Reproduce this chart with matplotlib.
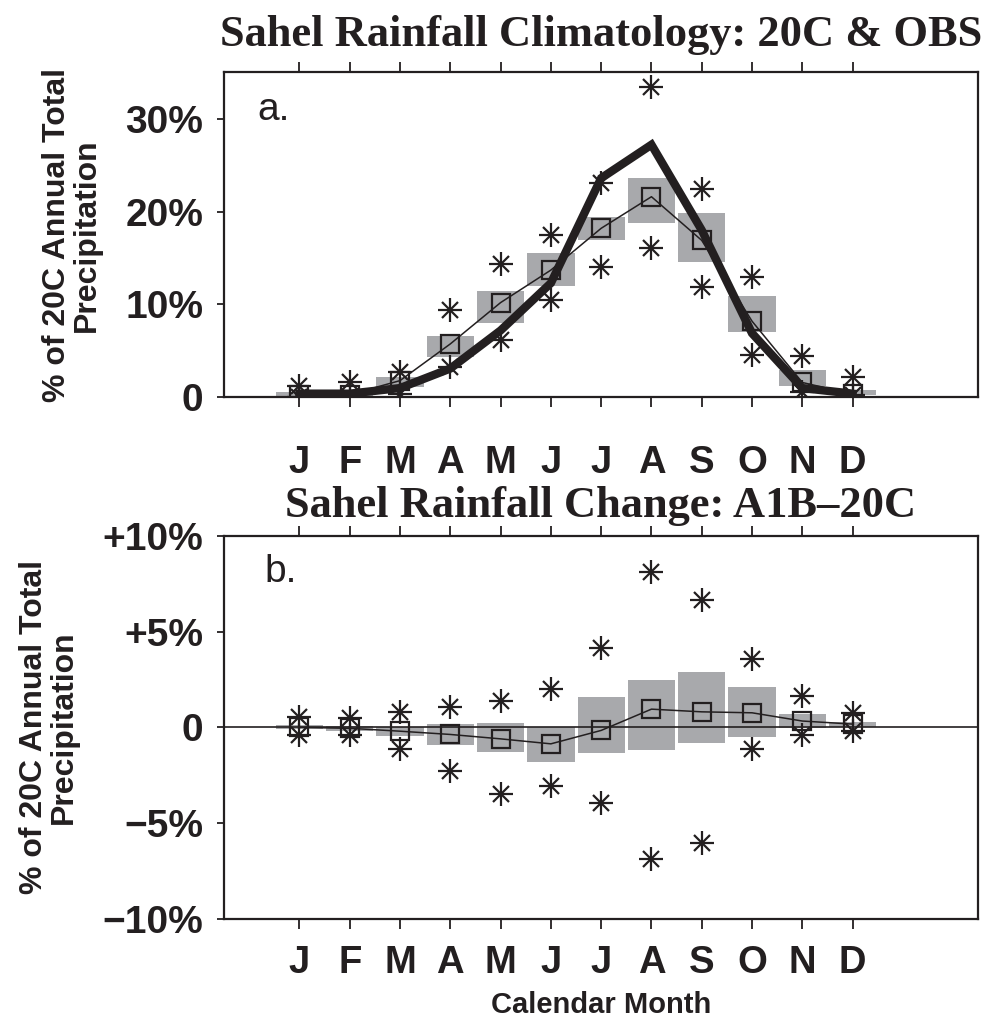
import numpy as np
import matplotlib
matplotlib.use("Agg")
import matplotlib.pyplot as plt

ink = '#231f20'
shade = '#a8a9ac'
sans = 'Liberation Sans'
serif = 'Liberation Serif'

months = np.arange(1, 13)
month_labels = ['J', 'F', 'M', 'A', 'M', 'J', 'J', 'A', 'S', 'O', 'N', 'D']

# panel a: climatology (% of 20C annual total)
clim_obs = [0.4, 0.4, 1.0, 3.1, 7.2, 12.3, 23.6, 27.2, 18.0, 6.9, 1.0, 0.4]
clim_mean = [0.25, 0.3, 1.8, 5.75, 10.2, 13.7, 18.2, 21.6, 16.9, 8.2, 1.6, 0.35]
clim_lo = [0.05, 0.05, 1.1, 4.3, 8.0, 12.0, 16.9, 18.8, 14.6, 7.0, 1.25, 0.25]
clim_hi = [0.6, 0.6, 2.15, 6.6, 11.4, 15.5, 19.4, 23.6, 19.8, 10.9, 2.9, 0.8]
clim_max = [1.25, 1.6, 2.7, 9.4, 14.4, 17.5, 23.1, 33.4, 22.4, 13.0, 4.5, 2.2]
clim_min = [0.05, 0.05, 0.4, 3.3, 6.2, 10.5, 14.0, 16.1, 11.9, 4.6, 0.6, 0.2]

# panel b: change A1B - 20C
chg_mean = [0.0, -0.05, -0.2, -0.37, -0.6, -0.86, -0.16, 0.95, 0.81, 0.76, 0.33, 0.17]
chg_lo = [-0.1, -0.18, -0.45, -0.92, -1.3, -1.83, -1.36, -1.18, -0.84, -0.49, -0.05, 0.0]
chg_hi = [0.1, 0.07, 0.03, 0.15, 0.24, 0.03, 1.6, 2.47, 2.87, 2.12, 0.68, 0.26]
chg_max = [0.55, 0.47, 0.81, 1.08, 1.37, 1.98, 4.12, 8.12, 6.64, 3.55, 1.63, 0.73]
chg_min = [-0.4, -0.4, -1.15, -2.26, -3.48, -3.05, -3.93, -6.89, -6.06, -1.15, -0.4, -0.18]


def stars(ax, y):
    # 8-armed asterisk: a plus overlaid with an x
    ax.plot(months, y, ls='none', marker='+', ms=17, mew=1.6, color=ink, zorder=4)
    ax.plot(months, y, ls='none', marker='x', ms=12, mew=1.6, color=ink, zorder=4)


def model_spread(ax, lo, hi, mean):
    lo = np.array(lo)
    hi = np.array(hi)
    ax.bar(months, hi - lo, bottom=lo, width=0.94, color=shade, edgecolor='none', zorder=1)
    ax.plot(months, mean, '-', color=ink, lw=1.1, marker='s', ms=13.5, mfc='none',
            mec=ink, mew=1.6, zorder=3)


def style(ax, yticks, yticklabels, ylim, xpad):
    ax.set_xlim(-0.5, 14.5)
    ax.set_ylim(*ylim)
    ax.set_xticks(months)
    ax.set_xticklabels(month_labels, fontsize=27.5, fontweight='bold', family=sans, color=ink)
    ax.set_yticks(yticks)
    ax.set_yticklabels(yticklabels, fontsize=28, fontweight='bold', family=sans, color=ink)
    ax.tick_params(axis='x', which='both', direction='out', length=7, width=1.3,
                   top=True, bottom=True, pad=xpad, colors=ink)
    ax.tick_params(axis='y', direction='out', length=5, width=1.3, right=False, pad=10,
                   colors=ink)
    for sp in ax.spines.values():
        sp.set_linewidth(1.6)
        sp.set_color(ink)
    ax.set_ylabel('% of 20C Annual Total\nPrecipitation', fontsize=23, fontweight='bold',
                  family=sans, color=ink, labelpad=17, linespacing=1.0)


fig = plt.figure(figsize=(9.81, 10.22), dpi=100)
ax1 = fig.add_axes([0.2283, 0.6112, 0.769, 0.3181])
ax2 = fig.add_axes([0.2283, 0.1008, 0.769, 0.375])

# panel a
model_spread(ax1, clim_lo, clim_hi, clim_mean)
ax1.plot(months, clim_obs, '-', color=ink, lw=6, solid_joinstyle='miter', zorder=5)
stars(ax1, clim_max)
stars(ax1, clim_min)
style(ax1, [0, 10, 20, 30], ['0', '10%', '20%', '30%'], (0, 35), 27)
ax1.text(0.044, 0.853, 'a.', transform=ax1.transAxes, fontsize=28, family=sans, color=ink)

# panel b
ax2.axhline(0, color=ink, lw=1.2, zorder=2)
model_spread(ax2, chg_lo, chg_hi, chg_mean)
stars(ax2, chg_max)
stars(ax2, chg_min)
style(ax2, [-10, -5, 0, 5, 10], ['\u221210%', '\u22125%', '0', '+5%', '+10%'], (-10, 10), 12)
ax2.set_xlabel('Calendar Month', fontsize=21, fontweight='bold', family=sans, color=ink,
               labelpad=7)
ax2.text(0.054, 0.88, 'b.', transform=ax2.transAxes, fontsize=28, family=sans, color=ink)

fig.text(0.6125, 0.955, 'Sahel Rainfall Climatology: 20C & OBS', ha='center', va='baseline',
         fontsize=32, fontweight='bold', family=serif, color=ink)
fig.text(0.6125, 0.494, 'Sahel Rainfall Change: A1B\u201320C', ha='center', va='baseline',
         fontsize=32, fontweight='bold', family=serif, color=ink)

fig.savefig('out.png', dpi=100)
